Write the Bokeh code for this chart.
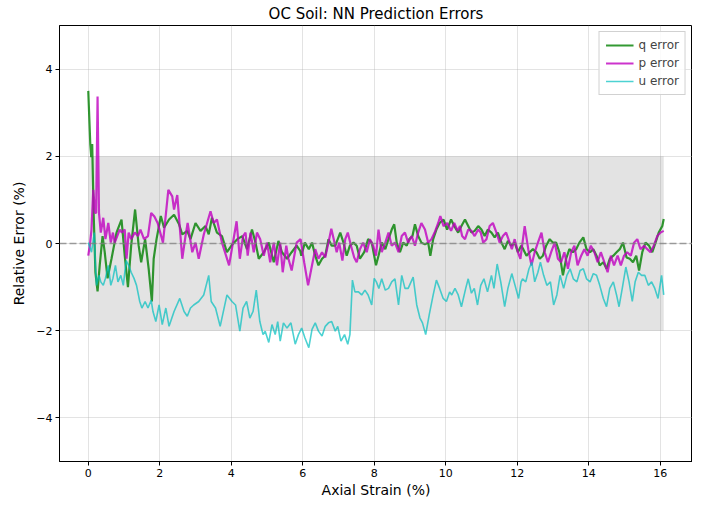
from bokeh.plotting import figure
from bokeh.models import Range1d, FixedTicker, Span, Legend, LegendItem
from bokeh.embed import file_html
from bokeh.resources import INLINE

# ---------------- data ----------------
q_strain = [0.00, 0.056, 0.083, 0.11, 0.15, 0.20, 0.26, 0.32, 0.40, 0.46, 0.54, 0.65, 0.79, 0.93,
            1.02, 1.11, 1.20, 1.31, 1.41, 1.48, 1.59, 1.69, 1.78, 1.83, 1.91,
            2.03, 2.12, 2.26, 2.40, 2.54, 2.63, 2.77, 2.86, 3.00, 3.14, 3.28, 3.37, 3.46, 3.60, 3.74, 3.88,
            4.03, 4.17, 4.31, 4.44, 4.58, 4.68, 4.77, 4.91, 5.05, 5.19, 5.32, 5.42, 5.56, 5.69, 5.83, 5.93,
            5.96, 6.06, 6.17, 6.26, 6.35, 6.44, 6.54, 6.63, 6.72, 6.81, 6.91, 7.05, 7.14, 7.23, 7.32, 7.42,
            7.51, 7.60, 7.72, 7.83, 7.93, 8.05, 8.12, 8.21, 8.31, 8.40, 8.49, 8.56, 8.63, 8.72, 8.81, 8.91,
            8.98, 9.07, 9.14, 9.23, 9.32, 9.42, 9.51, 9.57, 9.65, 9.74, 9.83, 9.94, 10.04, 10.15, 10.24,
            10.35, 10.44, 10.54, 10.63, 10.72, 10.81, 10.91, 11.00, 11.09, 11.18, 11.28, 11.37, 11.46,
            11.56, 11.65, 11.74, 11.83, 11.93, 12.02, 12.11, 12.17, 12.26, 12.35, 12.44, 12.54, 12.63,
            12.72, 12.81, 12.91, 13.00, 13.09, 13.18, 13.28, 13.37, 13.46, 13.56, 13.65, 13.74, 13.85,
            13.94, 14.04, 14.13, 14.22, 14.31, 14.41, 14.50, 14.59, 14.69, 14.78, 14.87, 14.96, 15.06,
            15.15, 15.24, 15.33, 15.41, 15.50, 15.59, 15.69, 15.78, 15.87, 15.96, 16.06, 16.10]
q_error = [3.50, 2.28, 1.98, 2.28, 0.70, -0.66, -1.10, -0.50, 0.17, -0.20, -0.80, -0.35, 0.25, 0.55,
           -0.28, -1.00, -0.05, 0.78, -0.05, -0.43, 0.10, -0.58, -1.33, -0.35, 0.10,
           0.63, 0.36, 0.55, 0.66, 0.44, 0.21, 0.29, 0.10, 0.47, 0.29, 0.40, 0.21, 0.59, 0.25, 0.17, -0.20,
           -0.02, 0.10, 0.17, -0.13, 0.32, 0.02, -0.35, -0.20, 0.02, -0.43, 0.06, -0.20, -0.35, -0.20, -0.05, -0.17,
           -0.28, 0.02, -0.13, 0.02, -0.28, -0.50, -0.35, -0.28, 0.10, -0.05, -0.05, 0.25, 0.02, -0.28, -0.05, 0.02,
           -0.05, -0.35, -0.20, 0.10, 0.02, -0.50, -0.28, 0.02, -0.13, 0.10, 0.32, 0.44, 0.02, -0.20, 0.02, -0.05,
           0.10, 0.17, 0.44, 0.17, 0.02, -0.02, 0.02, -0.28, 0.10, 0.32, 0.47, 0.55, 0.32, 0.55, 0.40,
           0.25, 0.40, 0.55, 0.40, 0.25, 0.29, 0.40, 0.32, 0.17, 0.32, 0.25, 0.14, 0.25,
           0.02, -0.13, 0.06, -0.05, 0.02, -0.20, -0.05, -0.13, -0.28, -0.20, -0.13, -0.20, -0.35,
           -0.28, -0.05, 0.10, 0.02, 0.02, -0.20, -0.73, -0.35, -0.13, -0.20, -0.13, 0.02, 0.14,
           -0.13, -0.20, -0.13, -0.28, -0.50, -0.43, -0.58, -0.35, -0.28, -0.20, -0.13, 0.02, -0.32,
           -0.35, -0.43, -0.28, -0.62, -0.20, 0.02, -0.05, -0.20, 0.02, 0.25, 0.40, 0.56]

p_strain = [0.00, 0.05, 0.09, 0.14, 0.19, 0.22, 0.26, 0.30, 0.35, 0.42, 0.48, 0.56, 0.63, 0.69, 0.74,
            0.81, 0.88, 0.94, 1.02, 1.07, 1.13, 1.20, 1.30, 1.39, 1.46, 1.56, 1.67, 1.76, 1.85, 1.94,
            2.09, 2.24, 2.35, 2.40, 2.49, 2.63, 2.72, 2.78, 2.91, 3.00, 3.09, 3.23, 3.42, 3.51, 3.60,
            3.74, 3.94, 4.15, 4.24, 4.33, 4.40, 4.46, 4.54, 4.63, 4.72, 4.81, 4.91, 5.00, 5.09, 5.19,
            5.28, 5.37, 5.44, 5.54, 5.60, 5.69, 5.83, 5.94, 6.04, 6.15, 6.26, 6.35, 6.44, 6.54, 6.63,
            6.72, 6.80, 6.89, 6.95, 7.02, 7.11, 7.19, 7.26, 7.35, 7.44, 7.51, 7.60, 7.69, 7.79, 7.88,
            7.97, 8.05, 8.12, 8.21, 8.31, 8.40, 8.49, 8.58, 8.68, 8.77, 8.86, 8.95, 9.05, 9.14, 9.23,
            9.32, 9.42, 9.51, 9.60, 9.69, 9.79, 9.85, 9.94, 10.04, 10.15, 10.24, 10.33, 10.40, 10.46,
            10.54, 10.63, 10.72, 10.81, 10.91, 10.98, 11.05, 11.14, 11.23, 11.32, 11.42, 11.51, 11.60,
            11.69, 11.79, 11.85, 11.93, 12.02, 12.09, 12.21, 12.31, 12.40, 12.49, 12.58, 12.68, 12.77,
            12.86, 12.95, 13.05, 13.14, 13.23, 13.32, 13.42, 13.51, 13.60, 13.69, 13.79, 13.88, 13.97,
            14.06, 14.16, 14.25, 14.34, 14.44, 14.53, 14.62, 14.71, 14.81, 14.90, 14.99, 15.08, 15.18,
            15.27, 15.36, 15.45, 15.55, 15.64, 15.73, 15.82, 15.92, 16.01, 16.10]
p_error = [-0.28, 0.00, 0.32, 1.23, 0.70, 0.70, 3.37, 0.70, 0.25, 0.59, 0.10, 0.47, 0.02, 0.25, 0.02,
           0.17, 0.32, 0.25, 0.32, -0.35, 0.25, 0.10, 0.25, 0.17, 0.32, 0.10, 0.17, 0.70, 0.62, 0.47,
           0.02, 1.23, 1.08, 0.78, 1.11, -0.35, 0.17, 0.47, -0.20, 0.02, -0.35, 0.20, 0.74, 0.47, 0.55,
           0.02, -0.50, 0.51, -0.35, 0.17, 0.25, -0.28, 0.25, -0.20, 0.25, 0.10, -0.28, 0.02, -0.43, 0.02,
           -0.50, 0.02, -0.66, -0.05, -0.35, -0.62, 0.02, 0.10, -0.43, -0.96, -0.50, -0.13, -0.35, -0.20, -0.32,
           0.02, 0.34, 0.02, -0.20, 0.02, -0.39, 0.10, 0.25, -0.05, -0.32, -0.43, -0.13, 0.02, -0.20, 0.10,
           -0.05, -0.28, 0.32, -0.20, 0.02, 0.25, -0.05, 0.02, -0.20, 0.17, 0.25, 0.02, 0.17, -0.05, 0.25,
           0.47, 0.32, 0.02, 0.10, 0.25, 0.47, 0.63, 0.40, 0.47, 0.29, 0.47, 0.29, 0.40, 0.17,
           0.10, 0.32, 0.29, 0.17, 0.32, 0.25, 0.02, 0.10, 0.40, 0.47, 0.25, 0.02, 0.17,
           0.25, 0.02, -0.13, 0.10, -0.20, -0.35, 0.40, -0.13, -0.50, -0.20, 0.02, 0.25, -0.20,
           -0.43, -0.20, 0.02, -0.35, -0.43, -0.20, -0.58, -0.20, -0.05, -0.50, -0.28, -0.13, -0.28,
           -0.05, -0.20, -0.43, -0.20, -0.43, -0.66, -0.28, -0.50, -0.28, -0.50, -0.28, -0.20, -0.28,
           0.02, 0.10, -0.13, -0.05, -0.13, -0.20, -0.05, 0.17, 0.25, 0.29]

u_strain = [0.00, 0.05, 0.09, 0.17, 0.20, 0.23, 0.30, 0.35, 0.42, 0.48, 0.56, 0.63, 0.69, 0.76, 0.83,
            0.91, 0.98, 1.06, 1.13, 1.20, 1.28, 1.35, 1.44, 1.50, 1.59, 1.67, 1.76, 1.81,
            1.89, 1.98, 2.07, 2.17, 2.26, 2.40, 2.56, 2.68, 2.77, 2.86, 2.95, 3.09, 3.23, 3.37, 3.44,
            3.56, 3.69, 3.88, 4.02, 4.12, 4.24, 4.33, 4.43, 4.52, 4.61, 4.70, 4.80, 4.89, 4.95, 5.05,
            5.14, 5.23, 5.30, 5.37, 5.46, 5.56, 5.67, 5.79, 5.88, 5.97, 6.06, 6.17, 6.26, 6.35, 6.44,
            6.54, 6.63, 6.72, 6.81, 6.91, 6.98, 7.07, 7.17, 7.26, 7.32, 7.39, 7.46, 7.56, 7.65, 7.74,
            7.83, 7.93, 8.00, 8.06, 8.13, 8.21, 8.31, 8.40, 8.49, 8.58, 8.68, 8.77, 8.86, 8.95, 9.09,
            9.19, 9.28, 9.35, 9.44, 9.54, 9.65, 9.74, 9.83, 9.93, 10.02, 10.11, 10.17, 10.26, 10.35,
            10.44, 10.56, 10.63, 10.72, 10.80, 10.89, 10.98, 11.07, 11.17, 11.28, 11.35, 11.44, 11.54,
            11.65, 11.74, 11.85, 11.94, 12.04, 12.11, 12.15, 12.24, 12.33, 12.41, 12.49, 12.58, 12.65,
            12.74, 12.83, 12.93, 13.02, 13.11, 13.20, 13.30, 13.39, 13.48, 13.57, 13.67, 13.76, 13.85,
            13.94, 14.04, 14.13, 14.22, 14.31, 14.41, 14.50, 14.59, 14.69, 14.78, 14.85, 14.94, 15.04,
            15.13, 15.22, 15.30, 15.39, 15.48, 15.57, 15.67, 15.76, 15.85, 15.94, 16.04, 16.10]
u_error = [0.02, -0.10, -0.20, 0.25, -0.50, -0.96, -0.73, -0.88, -0.96, -0.80, -0.50, -0.96, -0.80, -0.50, -0.88,
           -0.73, -0.96, -0.39, -0.50, -0.66, -0.80, -0.96, -1.33, -1.48, -1.33, -1.48, -1.30, -1.56,
           -1.79, -1.41, -1.86, -1.48, -1.90, -1.56, -1.26, -1.56, -1.67, -1.48, -1.41, -1.33, -1.18, -0.73, -1.33,
           -1.48, -1.90, -1.18, -1.33, -1.41, -2.01, -1.48, -1.33, -1.71, -1.56, -1.07, -1.79, -2.09, -2.01, -2.27,
           -1.86, -2.09, -1.79, -2.24, -1.82, -1.94, -1.82, -2.31, -2.09, -1.94, -2.16, -2.39, -1.97, -1.82, -2.01,
           -2.12, -1.90, -1.82, -1.79, -2.01, -1.90, -2.24, -2.09, -2.31, -2.09, -0.84, -1.11, -1.11, -1.18, -1.07,
           -1.18, -1.41, -0.80, -0.88, -1.03, -0.81, -1.07, -1.03, -0.88, -0.81, -1.41, -0.73, -1.03, -1.03, -0.77,
           -1.41, -1.71, -1.82, -2.09, -1.63, -1.18, -0.84, -1.03, -1.26, -1.33, -1.11, -1.18, -1.03, -1.18,
           -1.45, -1.03, -0.81, -1.14, -1.03, -1.41, -0.96, -0.81, -1.11, -0.73, -1.03, -0.47, -0.88,
           -1.45, -1.03, -0.69, -0.96, -1.26, -0.88, -0.81, -0.88, -0.58, -0.43, -0.88, -0.66, -0.43,
           -0.73, -0.96, -0.88, -1.41, -1.18, -0.73, -1.03, -0.73, -0.58, -0.81, -0.88, -0.62, -0.58,
           -0.81, -0.88, -0.69, -0.73, -0.96, -1.26, -1.45, -1.03, -0.88, -1.18, -1.45, -1.03, -0.54,
           -0.88, -1.33, -0.88, -0.66, -0.73, -0.73, -0.96, -0.88, -1.03, -1.26, -0.73, -1.18]

band_low, band_high = -2.0, 2.0
x_ticks = [0, 2, 4, 6, 8, 10, 12, 14, 16]
y_ticks = [-4, -2, 0, 2, 4]

FONT = "DejaVu Sans"

p = figure(width=692, height=500, output_backend="svg", toolbar_location=None,
           x_range=Range1d(-0.805, 16.905), y_range=Range1d(-5, 5),
           min_border_left=59, min_border_right=0, min_border_top=0, min_border_bottom=0)

p.title.text = "OC Soil: NN Prediction Errors"
p.title.align = "center"
p.title.text_font = FONT
p.title.text_font_size = "15px"
p.title.text_font_style = "normal"
p.title.text_color = "black"
p.title.offset = 0
p.title.standoff = 5

p.outline_line_color = "black"
p.outline_line_width = 1
p.background_fill_color = "white"
p.border_fill_color = "white"

# safe band
p.quad(left=min(q_strain), right=max(q_strain), bottom=band_low, top=band_high,
       fill_color="gray", fill_alpha=0.22, line_color=None)

p.add_layout(Span(location=0, dimension="width", line_color="gray", line_alpha=0.75,
                  line_dash="7 3", line_width=1.3))

rq = p.line(q_strain, q_error, line_color="green", line_alpha=0.8, line_width=2.2)
rp = p.line(p_strain, p_error, line_color="#bf00bf", line_alpha=0.8, line_width=2.2)
ru = p.line(u_strain, u_error, line_color="#00bfbf", line_alpha=0.7, line_width=1.6)

legend = Legend(items=[LegendItem(label="q error", renderers=[rq]),
                       LegendItem(label="p error", renderers=[rp]),
                       LegendItem(label="u error", renderers=[ru])],
                location="top_right")
legend.label_text_font = FONT
legend.label_text_font_size = "12px"
legend.label_height = 14
legend.glyph_height = 14
legend.glyph_width = 28
legend.spacing = 4
legend.padding = 6
legend.margin = 6
legend.border_line_color = "#cccccc"
legend.border_line_alpha = 0.9
legend.background_fill_alpha = 0.85
p.add_layout(legend)

for ax in (p.xaxis[0], p.yaxis[0]):
    ax.axis_line_color = "black"
    ax.major_tick_line_color = "black"
    ax.major_tick_out = 4
    ax.major_tick_in = 0
    ax.minor_tick_line_color = None
    ax.major_label_text_font = FONT
    ax.major_label_text_font_size = "11px"
    ax.major_label_text_color = "black"
    ax.axis_label_text_font = FONT
    ax.axis_label_text_font_size = "14px"
    ax.axis_label_text_font_style = "normal"
    ax.axis_label_text_color = "black"
    ax.major_label_standoff = 3

p.xaxis.ticker = FixedTicker(ticks=x_ticks)
p.yaxis.ticker = FixedTicker(ticks=y_ticks)
p.yaxis.major_label_overrides = {t: (("\u2212" + str(-t)) if t < 0 else str(t)) for t in y_ticks}
p.xaxis.axis_label = "Axial Strain (%)"
p.yaxis.axis_label = "Relative Error (%)"
p.xaxis.axis_label_standoff = 2
p.yaxis.axis_label_standoff = 6

p.grid.grid_line_color = "#b0b0b0"
p.grid.grid_line_alpha = 0.35
p.grid.grid_line_width = 1

open("out.html", "w").write(file_html(p, INLINE))
